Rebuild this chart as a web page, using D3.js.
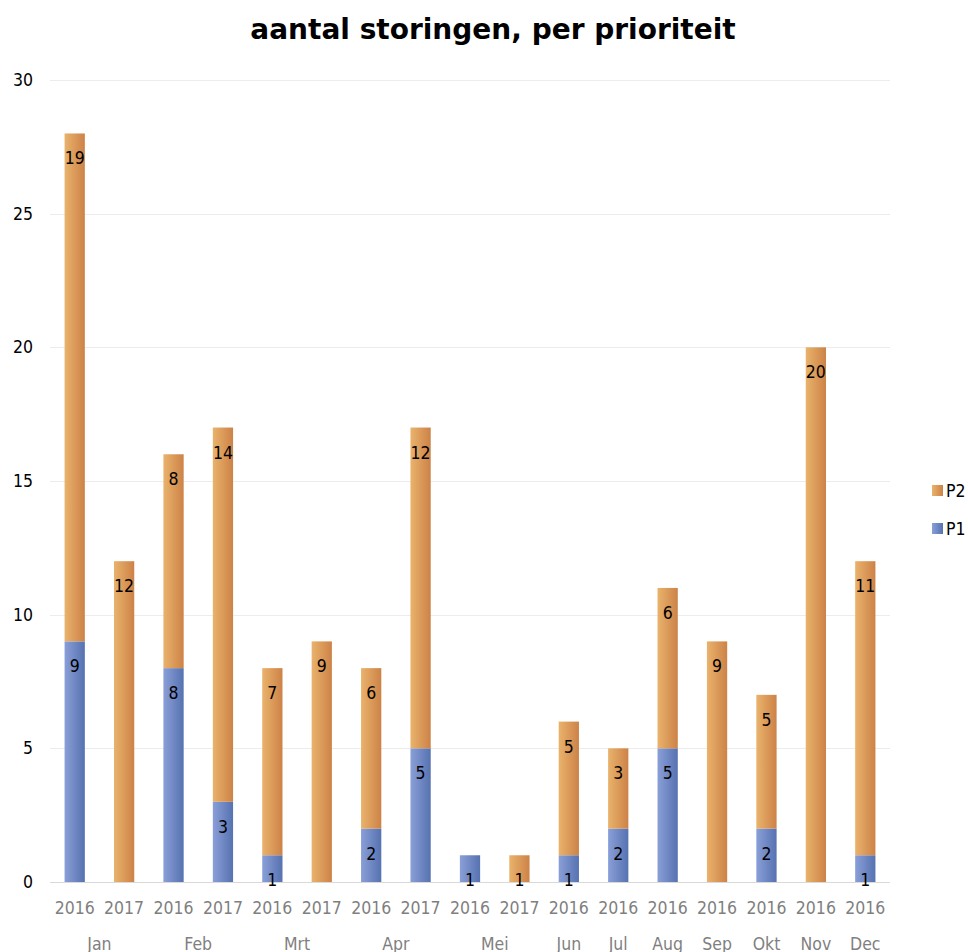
<!DOCTYPE html>
<html><head><meta charset="utf-8">
<script src="https://cdn.jsdelivr.net/npm/d3@7"></script>
<style>body{margin:0;background:#fff;} text{font-family:"DejaVu Sans Condensed","DejaVu Sans",Verdana,sans-serif;}</style>
</head><body>
<svg id="c" width="968" height="952"></svg>
<script>
const months = ["Jan","Jan","Feb","Feb","Mrt","Mrt","Apr","Apr","Mei","Mei","Jun","Jul","Aug","Sep","Okt","Nov","Dec"];
const years  = ["2016","2017","2016","2017","2016","2017","2016","2017","2016","2017","2016","2016","2016","2016","2016","2016","2016"];
const p1 = [9,0,8,3,1,0,2,5,1,0,1,2,5,0,2,0,1];
const p2 = [19,12,8,14,7,9,6,12,0,1,5,3,6,9,5,20,11];
const yTicks = [0,5,10,15,20,25,30];
const seriesNames = ["P1","P2"];

const svg = d3.select("#c");
const mL=50,mR=890,mT=80,mB=882;
const fs = 17.5;
const ids = d3.range(months.length);
const x = d3.scaleBand().domain(ids).range([mL,mR]).paddingInner(0.59).paddingOuter(0.295);
const y = d3.scaleLinear().domain([0,30]).range([mB,mT]);

const defs = svg.append("defs");
function grad(id, c1, c2){
  const g = defs.append("linearGradient").attr("id",id).attr("x1","0%").attr("x2","100%").attr("y1","0%").attr("y2","0%");
  g.append("stop").attr("offset","0%").attr("stop-color",c1);
  g.append("stop").attr("offset","100%").attr("stop-color",c2);
}
grad("gP1","#8a9fd8","#5672b0");
grad("gP2","#e9b36c","#cd8247");

// gridlines
svg.append("g").selectAll("line").data(yTicks).join("line")
  .attr("x1",mL).attr("x2",mR).attr("y1",d=>Math.round(y(d))+0.5).attr("y2",d=>Math.round(y(d))+0.5)
  .attr("stroke",d=>d===0?"#d9d9d9":"#ececec").attr("stroke-width",1);

// y tick labels
svg.append("g").selectAll("text").data(yTicks).join("text")
  .attr("x",33).attr("y",d=>y(d)+6).attr("text-anchor","end")
  .attr("font-size",fs).attr("fill","#000").text(d=>d);

// stack
const rows = ids.map(i=>({i, P1:p1[i], P2:p2[i]}));
const stack = d3.stack().keys(seriesNames)(rows);
const gBars = svg.append("g");
stack.forEach(s=>{
  gBars.append("g").selectAll("rect").data(s).join("rect")
    .attr("x",d=>x(d.data.i)).attr("width",x.bandwidth())
    .attr("y",d=>y(d[1])).attr("height",d=>y(d[0])-y(d[1]))
    .attr("fill",`url(#g${s.key})`);
});
// labels
stack.forEach(s=>{
  gBars.append("g").selectAll("text").data(s.filter(d=>d[1]-d[0]>0)).join("text")
    .attr("x",d=>x(d.data.i)+x.bandwidth()/2).attr("y",d=>y(d[1])+31)
    .attr("text-anchor","middle").attr("font-size",fs).attr("fill","#000")
    .text(d=>d[1]-d[0]);
});

// year labels
svg.append("g").selectAll("text").data(ids).join("text")
  .attr("x",i=>x(i)+x.bandwidth()/2).attr("y",914).attr("text-anchor","middle")
  .attr("font-size",fs).attr("fill","#7f7f7f").text(i=>years[i]);

// month labels (grouped)
const groups = d3.groups(ids, i=>months[i]);
svg.append("g").selectAll("text").data(groups).join("text")
  .attr("x",g=>{const a=g[1][0], b=g[1][g[1].length-1]; return (x(a)+x(b)+x.bandwidth())/2;})
  .attr("y",950).attr("text-anchor","middle").attr("font-size",fs).attr("fill","#7f7f7f")
  .text(g=>g[0]);

// title
svg.append("text").attr("x",493).attr("y",39).attr("text-anchor","middle")
  .attr("font-size",28).attr("font-weight","bold").attr("fill","#000")
  .style("font-family","'DejaVu Sans',Verdana,sans-serif")
  .text("aantal storingen, per prioriteit");

// legend
const leg = svg.append("g");
const legItems = ["P2","P1"];
leg.selectAll("rect").data(legItems).join("rect")
  .attr("x",932).attr("y",(d,i)=>485+i*38).attr("width",11).attr("height",11)
  .attr("fill",d=>`url(#g${d})`);
leg.selectAll("text").data(legItems).join("text")
  .attr("x",946).attr("y",(d,i)=>497+i*38).attr("font-size",fs).attr("fill","#000").text(d=>d);
</script>
</body></html>
